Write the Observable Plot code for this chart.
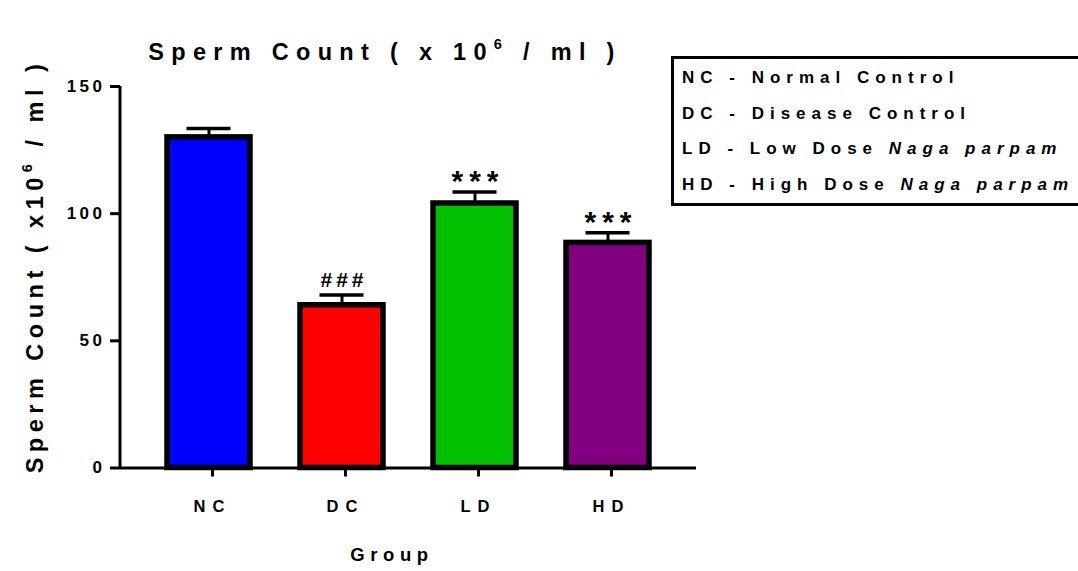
<!DOCTYPE html>
<html>
<head>
<meta charset="utf-8">
<script src="https://cdn.jsdelivr.net/npm/d3@7"></script>
<script src="https://cdn.jsdelivr.net/npm/@observablehq/plot@0.6"></script>
<style>
  html, body { margin: 0; padding: 0; background: #fff; }
  #wrap { position: relative; width: 1078px; height: 571px; overflow: hidden; font-family: "Liberation Sans", Arial, sans-serif; font-weight: bold; color: #000; }
  #chart [aria-label="x-axis tick label"] text { letter-spacing: 7px; }
  #chart [aria-label="y-axis tick label"] text { letter-spacing: 3.5px; }
  #chart g[aria-label="text"] text { letter-spacing: 4px; }
  #chart g[aria-label="text"] + g[aria-label="text"] text { letter-spacing: 6px; }
  #title { position: absolute; left: 385px; top: 52px; transform: translate(-50%, -50%); font-size: 23.5px; letter-spacing: 7.3px; white-space: nowrap; }
  #ylab { position: absolute; left: 35px; top: 266px; transform: translate(-50%, -50%) rotate(-90deg); font-size: 23.5px; letter-spacing: 5.5px; white-space: nowrap; }
  #xlab { position: absolute; left: 392px; top: 555px; transform: translate(-50%, -50%); font-size: 18.5px; letter-spacing: 5.6px; white-space: nowrap; }
  sup { font-size: 0.62em; vertical-align: 0.75em; line-height: 0; }
  #legend { position: absolute; left: 671px; top: 56px; width: 460px; height: 144px; border: 3.5px solid #000; font-size: 17px; letter-spacing: 6px; white-space: nowrap; }
  #legend div { position: absolute; left: 8px; }
  #legend i { font-style: italic; }
</style>
</head>
<body>
<div id="wrap">
  <div id="chart"></div>
  <div id="title">Sperm Count ( x 10<sup>6</sup> / ml )</div>
  <div id="ylab">Sperm Count ( x10<sup>6</sup> / ml )</div>
  <div id="xlab">Group</div>
  <div id="legend"></div>
</div>
<script>
const groups = ["NC", "DC", "LD", "HD"];
const means = [130, 64, 104, 88.5];
const sems = [3.5, 4, 4.5, 4];
const sigLabels = ["", "###", "***", "***"];
const colors = ["#0000FF", "#FF0000", "#00C000", "#800080"];
const yTicks = [0, 50, 100, 150];
const legendKeys = ["NC", "DC", "LD", "HD"];
const legendNames = ["Normal Control", "Disease Control", "Low Dose", "High Dose"];
const legendItalic = ["", "", "Naga parpam", "Naga parpam"];

const data = groups.map((g, i) => ({group: g, mean: means[i], upper: means[i] + sems[i], sig: sigLabels[i], color: colors[i]}));

const yAxisLine = (index, scales, values, dims) => {
  const s = d3.create("svg:line")
    .attr("x1", dims.marginLeft).attr("x2", dims.marginLeft)
    .attr("y1", scales.y(150)).attr("y2", scales.y(0))
    .attr("stroke", "#000").attr("stroke-width", 3);
  return s.node();
};

const chart = Plot.plot({
  width: 1078,
  height: 571,
  marginLeft: 120,
  marginRight: 382,
  marginTop: 86,
  marginBottom: 103.5,
  style: {fontFamily: "'Liberation Sans', Arial, sans-serif", fontWeight: "bold", fontSize: "16px", color: "#000", background: "#fff"},
  x: {domain: groups, padding: 0.33, axis: null},
  y: {domain: [0, 150], axis: null},
  color: {domain: groups, range: colors},
  marks: [
    Plot.barY(data, {x: "group", y: "mean", fill: "color", stroke: "#000", strokeWidth: 5.5, insetLeft: 3, insetRight: 3}),
    Plot.ruleX(data, {x: "group", y1: "mean", y2: "upper", stroke: "#000", strokeWidth: 3}),
    Plot.tickY(data, {x: "group", y: "upper", stroke: "#000", strokeWidth: 3.5, insetLeft: 22.5, insetRight: 22.5}),
    Plot.text(data.filter(d => d.sig === "###"), {x: "group", y: "upper", text: "sig", lineAnchor: "bottom", dx: 2, dy: -8, fontSize: 21, fontWeight: "bold", fill: "#000"}),
    Plot.text(data.filter(d => d.sig === "***"), {x: "group", y: "upper", text: "sig", lineAnchor: "bottom", dx: 3, dy: -1, fontSize: 30, fontWeight: "bold", fill: "#000"}),
    Plot.axisY({ticks: yTicks, tickSize: 10, tickPadding: 5, strokeWidth: 3, fontSize: 17, tickFormat: d => String(d), label: null}),
    Plot.axisX({tickSize: 9, tickPadding: 23, strokeWidth: 3, fontSize: 16.5, dx: 3.5, label: null}),
    Plot.ruleY([0], {stroke: "#000", strokeWidth: 3}),
    yAxisLine
  ]
});
document.getElementById("chart").appendChild(chart);

const legend = document.getElementById("legend");
legendKeys.forEach((k, i) => {
  const div = document.createElement("div");
  div.style.top = (9 + i * 35.5) + "px";
  div.innerHTML = `${k} - ${legendNames[i]}${legendItalic[i] ? " <i>" + legendItalic[i] + "</i>" : ""}`;
  legend.appendChild(div);
});
</script>
</body>
</html>
